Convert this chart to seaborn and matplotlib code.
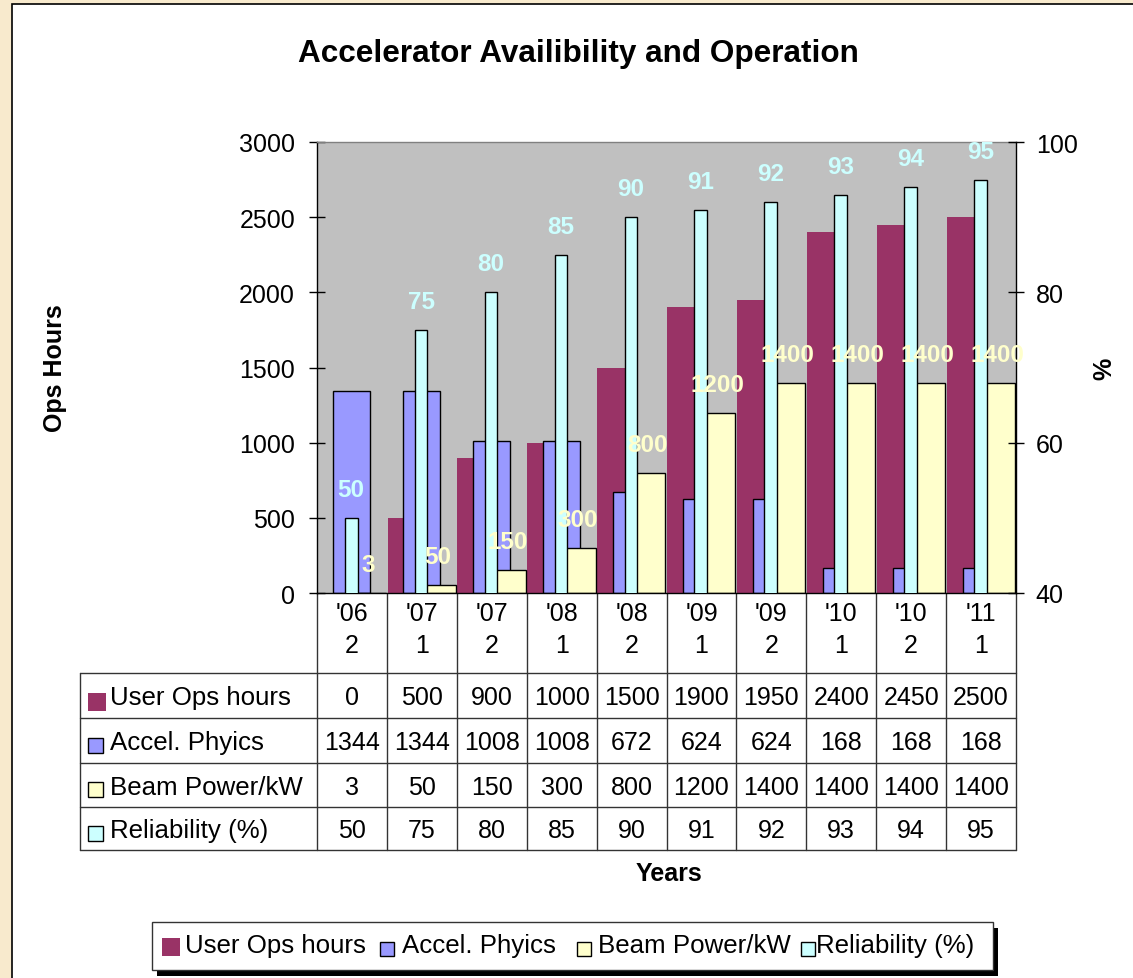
import numpy as np
import matplotlib.pyplot as plt
import seaborn as sns
from matplotlib.patches import Rectangle
from matplotlib.transforms import blended_transform_factory

periods = ["'06\n2", "'07\n1", "'07\n2", "'08\n1", "'08\n2",
           "'09\n1", "'09\n2", "'10\n1", "'10\n2", "'11\n1"]
user_ops = [0, 500, 900, 1000, 1500, 1900, 1950, 2400, 2450, 2500]
accel_phys = [1344, 1344, 1008, 1008, 672, 624, 624, 168, 168, 168]
beam_power = [3, 50, 150, 300, 800, 1200, 1400, 1400, 1400, 1400]
reliability = [50, 75, 80, 85, 90, 91, 92, 93, 94, 95]

series_names = ["User Ops hours", "Accel. Phyics", "Beam Power/kW", "Reliability (%)"]
series_colors = ["#993366", "#9999FF", "#FFFFCC", "#CCFFFF"]

W, H = 1133, 979

sns.set_style("white")
plt.rcParams['font.family'] = ['Liberation Sans', 'DejaVu Sans']
plt.rcParams['text.color'] = 'black'
plt.rcParams['axes.labelcolor'] = 'black'
plt.rcParams['ytick.color'] = 'black'
plt.rcParams['xtick.color'] = 'black'

fig = plt.figure(figsize=(W / 100, H / 100), dpi=100, facecolor='#F8EACD')


def px_box(x0, y0, x1, y1):
    return [x0 / W, 1 - y1 / H, (x1 - x0) / W, (y1 - y0) / H]


# overlay in pixel coordinates for the chart area, data table and legend
ov = fig.add_axes([0, 0, 1, 1], zorder=-1)
ov.set_xlim(0, W)
ov.set_ylim(H, 0)
ov.axis('off')
ov.add_patch(Rectangle((11.5, 5), 1300, 1100, facecolor='white',
                       edgecolor='black', lw=1.2, clip_on=False, zorder=0))

ax = fig.add_axes(px_box(317, 143, 1016, 594))
ax.set_facecolor('#C0C0C0')
ax2 = ax.twinx()

pos = np.arange(len(periods))

# 1. Overlapping primary bars (Excel style)
bar_w = 0.53
offsets = [-0.225, 0.0, 0.22]
for vals, off, col, ec in zip([user_ops, accel_phys, beam_power], offsets,
                              series_colors[:3], ['none', 'black', 'black']):
    sns.barplot(x=pos + off, y=vals, native_scale=True, width=bar_w,
                color=col, saturation=1, edgecolor=ec,
                linewidth=0 if ec == 'none' else 1.0, errorbar=None, ax=ax)

# 2. Reliability on the secondary axis
rel_off = -0.01
sns.barplot(x=pos + rel_off, y=reliability, native_scale=True, width=0.18,
            color=series_colors[3], saturation=1, edgecolor='black',
            linewidth=1.0, errorbar=None, ax=ax2)

ax.set_xlim(-0.5, len(periods) - 0.5)
ax.set_ylim(0, 3000)
ax.set_yticks(np.arange(0, 3001, 500))
ax2.set_ylim(40, 100)
ax2.set_yticks([40, 60, 80, 100])
ax.set_xticks([])
ax2.set_xticks([])

# data labels
for i in pos:
    ax2.annotate(str(beam_power[i]), xy=(i + 0.23, beam_power[i]), xycoords=ax.transData,
                 xytext=(0, 28.5), textcoords='offset pixels', ha='center', va='center',
                 fontsize=17.5, fontweight='bold', color=series_colors[2],
                 annotation_clip=False)
    ax2.annotate(str(reliability[i]), xy=(i + rel_off, reliability[i]), xycoords='data',
                 xytext=(0, 28.5), textcoords='offset pixels', ha='center', va='center',
                 fontsize=17.5, fontweight='bold', color=series_colors[3],
                 annotation_clip=False)

# spines & ticks
for s in ['left', 'bottom']:
    ax.spines[s].set_color('black')
    ax.spines[s].set_linewidth(1.0)
ax.spines['top'].set_color('#808080')
ax.spines['top'].set_linewidth(1.0)
ax.spines['right'].set_visible(False)
for s in ['left', 'bottom', 'top']:
    ax2.spines[s].set_visible(False)
ax2.spines['right'].set_color('black')
ax2.spines['right'].set_linewidth(1.0)
ax.tick_params(axis='y', direction='inout', length=11.5, width=1, pad=10, labelsize=18, left=True)
ax2.tick_params(axis='y', direction='inout', length=11.5, width=1, pad=8.5, labelsize=18, right=True)

ax.set_ylabel("Ops Hours", fontsize=18, fontweight='bold', va='center')
ax.yaxis.set_label_coords((55 - 317) / 698, 0.5)
ax2.set_ylabel("%", fontsize=18, fontweight='bold', va='center')
ax2.yaxis.set_label_coords((1103 - 317) / 698, 0.5)
ax.set_xlabel("Years", fontsize=18, fontweight='bold', va='center')
ax.xaxis.set_label_coords((668 - 317) / 698, (594 - 874) / 451)

fig.text(578 / W, 1 - 54 / H, "Accelerator Availibility and Operation",
         ha='center', va='center', fontsize=22.7, fontweight='bold')

# 3. Data table under the plot
bt = blended_transform_factory(ax.transData, ov.transData)
line_kw = dict(color='#333333', lw=1.0, zorder=2)
for b in np.arange(len(periods) + 1) - 0.5:
    ov.plot([b, b], [594, 851], transform=bt, **line_kw)
row_edges = [674, 719, 764, 808, 851]
for y in row_edges:
    ov.plot([80, 1016], [y, y], **line_kw)
ov.plot([80, 80], [row_edges[0], row_edges[-1]], **line_kw)

for i in pos:
    ov.text(i, 630, periods[i], transform=bt, ha='center', va='center',
            fontsize=18, linespacing=1.45)

table_rows = [user_ops, accel_phys, beam_power, reliability]
for r, (name, col, vals) in enumerate(zip(series_names, series_colors, table_rows)):
    yc = (row_edges[r] + row_edges[r + 1]) / 2
    if r == 0:
        ov.add_patch(Rectangle((88, yc - 2.5), 18, 18, fc=col, ec='none', zorder=3))
    else:
        ov.add_patch(Rectangle((87.5, yc - 3), 15, 15, fc=col, ec='black', lw=1, zorder=3))
    ov.text(110, yc + 2, name, ha='left', va='center', fontsize=18.6)
    for i in pos:
        ov.text(i, yc + 2, str(vals[i]), transform=bt, ha='center', va='center', fontsize=18)

# 4. Legend box with shadow
ov.add_patch(Rectangle((157, 929), 841, 48, fc='black', ec='none', zorder=3))
ov.add_patch(Rectangle((152, 923), 841, 48, fc='white', ec='#333333', lw=1, zorder=4))
key_x = [162, 380, 577, 801]
text_x = [185, 402, 598, 816]
for k, (name, col) in enumerate(zip(series_names, series_colors)):
    if k == 0:
        ov.add_patch(Rectangle((key_x[k], 939), 18, 18, fc=col, ec='none', zorder=5))
    else:
        ov.add_patch(Rectangle((key_x[k], 943), 14, 14, fc=col, ec='black', lw=1, zorder=5))
    ov.text(text_x[k], 946, name, ha='left', va='center', fontsize=18.6, zorder=5)

plt.savefig('out.png', dpi=100, facecolor=fig.get_facecolor())
